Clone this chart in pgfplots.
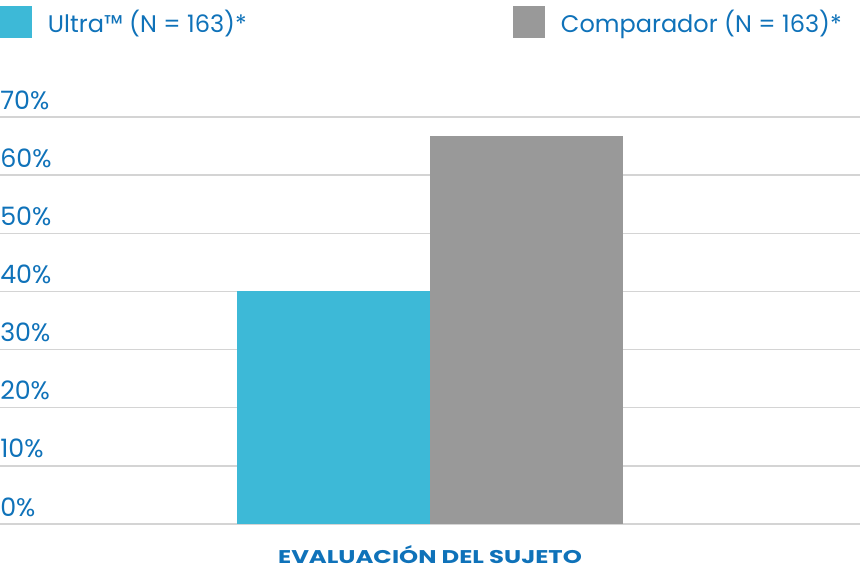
\documentclass[border=0pt]{standalone}
\usepackage{fontspec}
\setmainfont{Poppins}
\usepackage{pgfplots}
\pgfplotsset{compat=1.18}
\definecolor{ucyan}{HTML}{3DB9D7}
\definecolor{ugray}{HTML}{999999}
\definecolor{ublue}{HTML}{0F72B9}
\definecolor{ugrid}{HTML}{D4D4D4}
\begin{document}
\begin{tikzpicture}
\useasboundingbox (0pt,-39pt) rectangle (645pt,393pt);
\begin{axis}[
 at={(0pt,0pt)}, anchor=south west,
 scale only axis, width=645pt, height=305.25pt,
 xmin=-0.728, xmax=3.728, ymin=0, ymax=70,
 ytick={0,10,...,70}, xtick=\empty,
 axis line style={draw=none},
 major tick length=0pt,
 ymajorgrids, grid style={color=ugrid, line width=1.1pt},
 yticklabel={\pgfmathprintnumber{\tick}\%},
 /pgf/number format/assume math mode=true,
 yticklabel style={anchor=base west, inner sep=0pt, font=\fontsize{19}{19}\selectfont, color=ublue, yshift=6pt},
 xlabel={\scalebox{1.32}[1]{EVALUACIÓN DEL SUJETO}},
 xlabel style={at={(axis description cs:0.5,0)}, anchor=base, yshift=-29.25pt, font=\fontsize{13.8}{13.8}\selectfont\bfseries, color=ublue},
 ybar, bar width=1, bar shift=0pt,
 legend columns=2,
 legend style={at={(axis description cs:0,1)}, anchor=north west, yshift=83.25pt, draw=none, fill=none, inner sep=0pt, outer sep=0pt, column sep=0pt, nodes={inner sep=0pt, text=ublue, font=\fontsize{18}{18}\selectfont}, /tikz/every odd column/.style={column sep=12pt}},
 legend image code/.code={\fill[#1] (0pt,-12pt) rectangle (24pt,12pt);},
]
\addplot[fill=ucyan, draw=none] coordinates {(1,40)};
\addlegendentry{\makebox[348.75pt][l]{Ultra™ (N = 163)*}}
\addplot[fill=ugray, draw=none] coordinates {(2,66.7)};
\addlegendentry{Comparador (N = 163)*}
\end{axis}
\end{tikzpicture}
\end{document}
